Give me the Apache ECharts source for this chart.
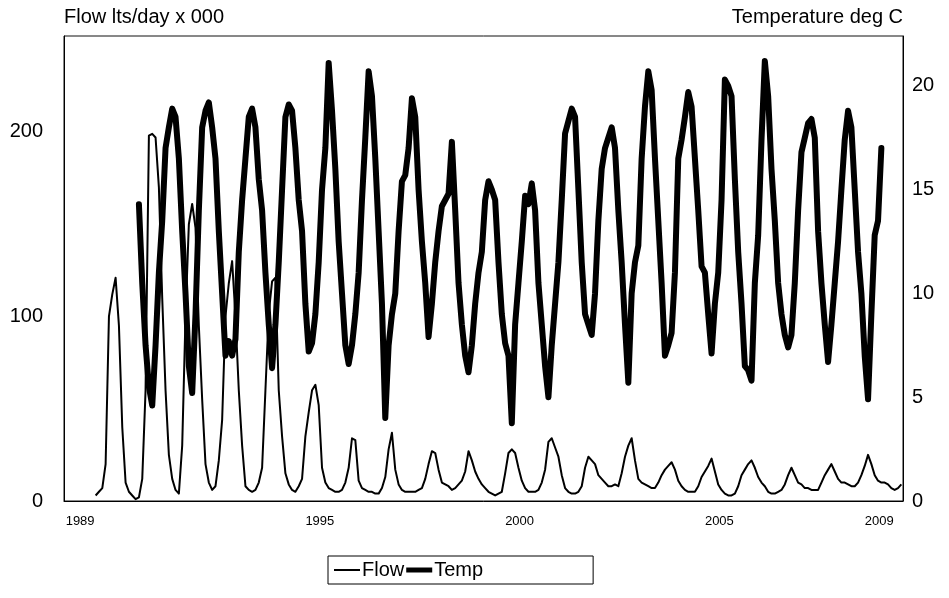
<!DOCTYPE html>
<html>
<head>
<meta charset="utf-8">
<title>Flow and Temp</title>
<script src="https://cdn.jsdelivr.net/npm/echarts@6/dist/echarts.min.js"></script>
<style>
  html, body { margin: 0; padding: 0; background: #fff; }
  #main { width: 949px; height: 598px; }
</style>
</head>
<body>
<div id="main"></div>
<script>
// years on the axis, labels shown only for some of them
var years = ['1989','1990','1991','1992','1993','1994','1995','1996','1997','1998','1999',
             '2000','2001','2002','2003','2004','2005','2006','2007','2008','2009'];
var monthNums = ['01','02','03','04','05','06','07','08','09','10','11','12'];
var yearLabels = ['1989','1995','2000','2005','2009'];

// flow lts/day x 000, monthly from Oct 1989
var flowStart = '1989-10';
var flow = [
  3, 5, 7,
  20, 100, 112, 121, 95, 40, 10, 5, 3, 1, 2, 12,          // 1990
  60, 198, 199, 197, 170, 110, 60, 25, 12, 6, 4, 30,      // 1991
  100, 150, 161, 148, 95, 55, 20, 10, 6, 8, 22, 44,       // 1992
  100, 118, 130, 100, 60, 30, 8, 6, 5, 6, 10, 18,         // 1993
  60, 102, 119, 121, 60, 35, 15, 9, 6, 5, 8, 12,          // 1994
  35, 48, 60, 63, 52, 18, 10, 7, 6, 5, 5, 6,              // 1995
  10, 18, 34, 33, 11, 7, 6, 5, 5, 4, 4, 7,                // 1996
  13, 28, 37, 17, 9, 6, 5, 5, 5, 5, 6, 7,                 // 1997
  12, 20, 27, 26, 17, 10, 9, 8, 6, 7, 9, 11,              // 1998
  16, 27, 22, 16, 12, 9, 7, 5, 4, 3, 4, 5,                // 1999
  15, 26, 28, 26, 18, 11, 7, 5, 5, 5, 6, 10,              // 2000
  17, 32, 34, 29, 24, 14, 7, 5, 4, 4, 5, 8,               // 2001
  18, 24, 22, 20, 14, 12, 10, 8, 8, 9, 8, 15,             // 2002
  24, 30, 34, 22, 12, 10, 9, 8, 7, 7, 10, 14,             // 2003
  17, 19, 21, 17, 11, 8, 6, 5, 5, 5, 8, 13,               // 2004
  16, 19, 23, 16, 9, 6, 4, 3, 3, 4, 8, 14,                // 2005
  17, 20, 22, 18, 13, 10, 8, 5, 4, 4, 5, 6,               // 2006
  9, 14, 18, 14, 10, 9, 7, 7, 6, 6, 6, 10,                // 2007
  14, 17, 20, 16, 12, 10, 10, 9, 8, 8, 10, 14,            // 2008
  19, 25, 20, 14, 11, 10, 10, 9, 7, 6, 7, 9               // 2009
];

// temperature deg C, monthly from Nov 1990
var tempStart = '1990-11';
var temp = [
  14.3, 10.5,
  7.5, 5.5, 4.6, 7.5, 11.0, 13.5, 17.0, 18.0, 18.9, 18.5, 16.5, 13.0,   // 1991
  10.0, 6.5, 5.2, 9.0, 14.0, 18.0, 18.8, 19.2, 18.0, 16.5, 13.0, 10.0,  // 1992
  7.0, 7.7, 7.0, 7.8, 12.0, 14.5, 16.5, 18.5, 18.9, 18.0, 15.5, 14.0,   // 1993
  11.0, 8.5, 6.4, 8.5, 11.5, 15.0, 18.5, 19.1, 18.8, 17.0, 14.5, 13.0,  // 1994
  9.5, 7.2, 7.6, 9.0, 11.5, 15.0, 17.0, 21.1, 18.8, 16.0, 12.5, 10.0,   // 1995
  7.5, 6.6, 7.5, 9.0, 11.0, 14.5, 17.5, 20.7, 19.5, 16.5, 13.0, 9.5,    // 1996
  4.0, 7.5, 9.0, 10.0, 13.0, 15.4, 15.7, 17.0, 19.4, 18.5, 15.0, 12.5,  // 1997
  10.5, 7.9, 9.5, 11.5, 13.0, 14.2, 14.5, 14.8, 17.3, 14.0, 10.5, 8.5,  // 1998
  7.0, 6.2, 7.5, 9.5, 11.0, 12.0, 14.5, 15.4, 15.0, 14.5, 11.5, 9.0,    // 1999
  7.6, 7.0, 3.75, 8.5, 10.5, 12.5, 14.7, 14.3, 15.3, 14.0, 10.5, 8.5,   // 2000
  6.5, 5.0, 7.5, 9.5, 11.5, 14.5, 17.7, 18.3, 18.9, 18.5, 15.0, 11.5,   // 2001
  9.0, 8.5, 8.0, 10.0, 13.5, 16.0, 17.0, 17.5, 18.0, 17.0, 14.0, 11.5,  // 2002
  8.5, 5.7, 10.0, 11.5, 12.3, 16.5, 19.0, 20.7, 19.8, 16.5, 13.5, 10.5, // 2003
  7.0, 7.5, 8.1, 11.0, 16.5, 17.4, 18.5, 19.7, 19.0, 16.5, 14.0, 11.3,  // 2004
  11.0, 9.0, 7.1, 9.5, 11.0, 14.5, 20.3, 20.0, 19.5, 15.5, 12.0, 9.5,   // 2005
  6.5, 6.3, 5.8, 10.5, 12.8, 17.4, 21.2, 19.5, 16.0, 13.5, 10.5, 9.0,   // 2006
  8.0, 7.4, 8.0, 10.5, 14.0, 16.8, 17.5, 18.2, 18.4, 17.5, 13.0, 10.5,  // 2007
  8.5, 6.7, 8.5, 10.5, 12.5, 15.0, 17.4, 18.8, 18.0, 15.0, 12.0, 10.0,  // 2008
  7.0, 4.9, 9.0, 12.8, 13.5, 17.0                                       // 2009
];

// month categories
var months = [];
years.forEach(function (y) {
    monthNums.forEach(function (m) { months.push(y + '-' + m); });
});

// put a series on the month axis, empty before its first month
function onMonths(start, values) {
    var out = [];
    var first = months.indexOf(start);
    for (var i = 0; i < months.length; i++) {
        var k = i - first;
        out.push(k >= 0 && k < values.length ? values[k] : null);
    }
    return out;
}

var font = 'Liberation Sans, Arial, sans-serif';
var myChart = echarts.init(document.getElementById('main'));
var option = {
    animation: false,
    textStyle: { fontFamily: font, color: '#000' },
    grid: {
        left: 64, right: 46, top: 36, bottom: 97,
        show: true, borderColor: '#111', borderWidth: 1
    },
    legend: {
        // plain bars as keys: thin for Flow, thick for Temp
        data: [
            { name: 'Flow', icon: 'path://M0,0 H26 V2 H0 Z' },
            { name: 'Temp', icon: 'path://M0,0 H26 V5 H0 Z' }
        ],
        symbolKeepAspect: true,
        left: 328, top: 556,
        padding: [4, 110, 4, 6],
        itemGap: 2, itemWidth: 26, itemHeight: 14,
        borderColor: '#000', borderWidth: 1,
        textStyle: { fontSize: 20, fontFamily: font, color: '#000', padding: [0, 0, 0, -3] }
    },
    xAxis: {
        type: 'category',
        data: months,
        boundaryGap: true,
        axisLine: { lineStyle: { color: '#000', width: 1 } },
        axisTick: {
            length: 8,
            lineStyle: { color: '#000' },
            interval: function (index) { return index % 12 === 0; }
        },
        axisLabel: {
            interval: function (index, value) {
                return value.slice(5) === '01' && yearLabels.indexOf(value.slice(0, 4)) >= 0;
            },
            formatter: function (value) { return value.slice(0, 4); },
            align: 'left',
            margin: 14,
            fontSize: 13,
            color: '#000'
        },
        splitLine: { show: false }
    },
    yAxis: [
        {
            type: 'value',
            min: 0, max: 252, interval: 100,
            name: 'Flow lts/day x 000',
            nameLocation: 'end',
            nameGap: 9,
            nameTextStyle: { fontSize: 20, align: 'left', verticalAlign: 'bottom', color: '#000' },
            axisLine: { show: true, lineStyle: { color: '#000' } },
            axisTick: { show: false },
            axisLabel: { fontSize: 20, margin: 21, color: '#000', showMaxLabel: false },
            splitLine: { show: false }
        },
        {
            type: 'value',
            min: 0, max: 22.4, interval: 5,
            position: 'right',
            name: 'Temperature deg C',
            nameLocation: 'end',
            nameGap: 9,
            nameTextStyle: { fontSize: 20, align: 'right', verticalAlign: 'bottom', color: '#000' },
            axisLine: { show: true, lineStyle: { color: '#000' } },
            axisTick: { show: false },
            axisLabel: { fontSize: 20, margin: 9, color: '#000', showMaxLabel: false },
            splitLine: { show: false }
        }
    ],
    series: [
        {
            name: 'Flow',
            type: 'line',
            yAxisIndex: 0,
            data: onMonths(flowStart, flow),
            symbol: 'none',
            color: '#000',
            lineStyle: { color: '#000', width: 2, join: 'round' }
        },
        {
            name: 'Temp',
            type: 'line',
            yAxisIndex: 1,
            data: onMonths(tempStart, temp),
            symbol: 'none',
            color: '#000',
            lineStyle: { color: '#000', width: 6, join: 'round', cap: 'round' }
        }
    ]
};
option && myChart.setOption(option);
</script>
</body>
</html>
